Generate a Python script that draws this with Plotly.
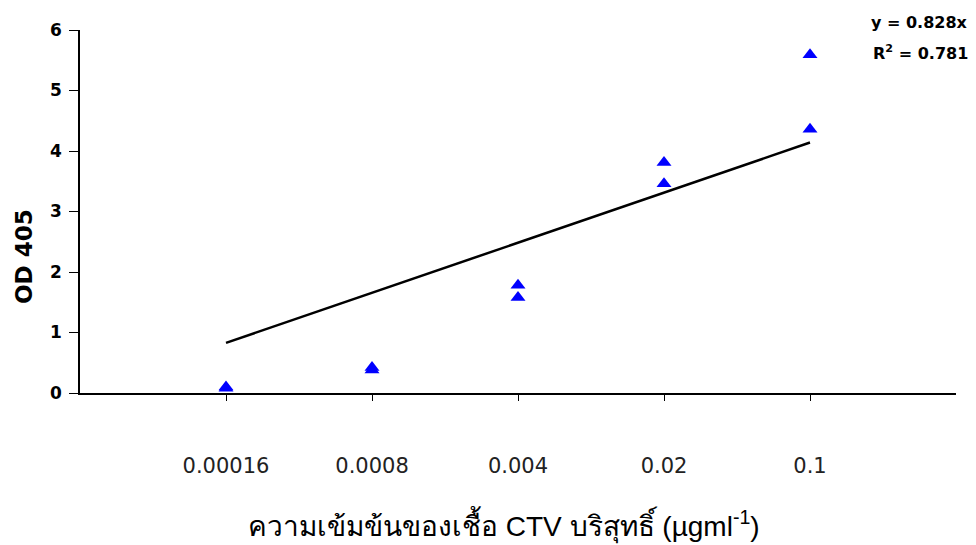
import plotly.graph_objects as go

categories = ["0.00016", "0.0008", "0.004", "0.02", "0.1"]
positions = [1, 2, 3, 4, 5]
od_rep1 = [0.10, 0.42, 1.78, 3.81, 5.59]
od_rep2 = [0.08, 0.38, 1.58, 3.46, 4.36]
slope = 0.828
r_squared = 0.781

xs = positions + positions
ys = od_rep1 + od_rep2

fig = go.Figure()
fig.add_trace(go.Scatter(
    x=[positions[0], positions[-1]],
    y=[slope * positions[0], slope * positions[-1]],
    mode="lines", line=dict(color="black", width=2.5), showlegend=False,
    hoverinfo="skip"))
fig.add_trace(go.Scatter(
    x=xs, y=ys, mode="markers",
    marker=dict(symbol="triangle-up", size=13, color="#0000FF"),
    showlegend=False))

fig.update_layout(
    width=968, height=537,
    margin=dict(l=72, r=20, t=22, b=152),
    paper_bgcolor="white", plot_bgcolor="white",
    font=dict(family="DejaVu Sans", color="black"),
    xaxis=dict(
        range=[0, 6], tickmode="array", tickvals=positions, ticktext=categories,
        showgrid=False, zeroline=False, showline=True, linecolor="black", linewidth=1.5,
        ticks="outside", ticklen=6, tickcolor="black",
        ticklabelstandoff=47,
        tickfont=dict(family="DejaVu Sans", size=21, color="#222"),
    ),
    yaxis=dict(
        range=[0, 6], tickvals=[0, 1, 2, 3, 4, 5, 6],
        showgrid=False, zeroline=False, showline=True, linecolor="black", linewidth=1.5,
        ticks="outside", ticklen=9, tickcolor="black",
        ticklabelstandoff=4,
        tickfont=dict(family="DejaVu Sans", size=17, color="black", weight="bold"),
    ),
)

fig.add_annotation(
    xref="paper", yref="paper", x=-0.0639, y=0.3747, xanchor="center", yanchor="middle",
    text="<b>OD 405</b>", textangle=-90, showarrow=False,
    font=dict(family="DejaVu Sans", size=23, color="black"))

fig.add_annotation(
    xref="paper", yref="paper", x=0.484, y=-0.3636, xanchor="center", yanchor="middle",
    text="ความเข้มข้นของเชื้อ CTV บริสุทธิ์ (µgml<sup>-1</sup>)", showarrow=False,
    font=dict(family="Liberation Sans, Noto Sans, sans-serif", size=28, color="black"))

fig.add_annotation(
    xref="paper", yref="paper", x=1.016, y=1.022, xanchor="right", yanchor="middle",
    text=f"<b>y = {slope}x</b>",
    showarrow=False,
    font=dict(family="DejaVu Sans", size=16, color="black"))
fig.add_annotation(
    xref="paper", yref="paper", x=1.016, y=0.939, xanchor="right", yanchor="middle",
    text=f"<b>R<sup>2</sup> = {r_squared}</b>",
    showarrow=False,
    font=dict(family="DejaVu Sans", size=16, color="black"))

fig.write_html("out.html")
